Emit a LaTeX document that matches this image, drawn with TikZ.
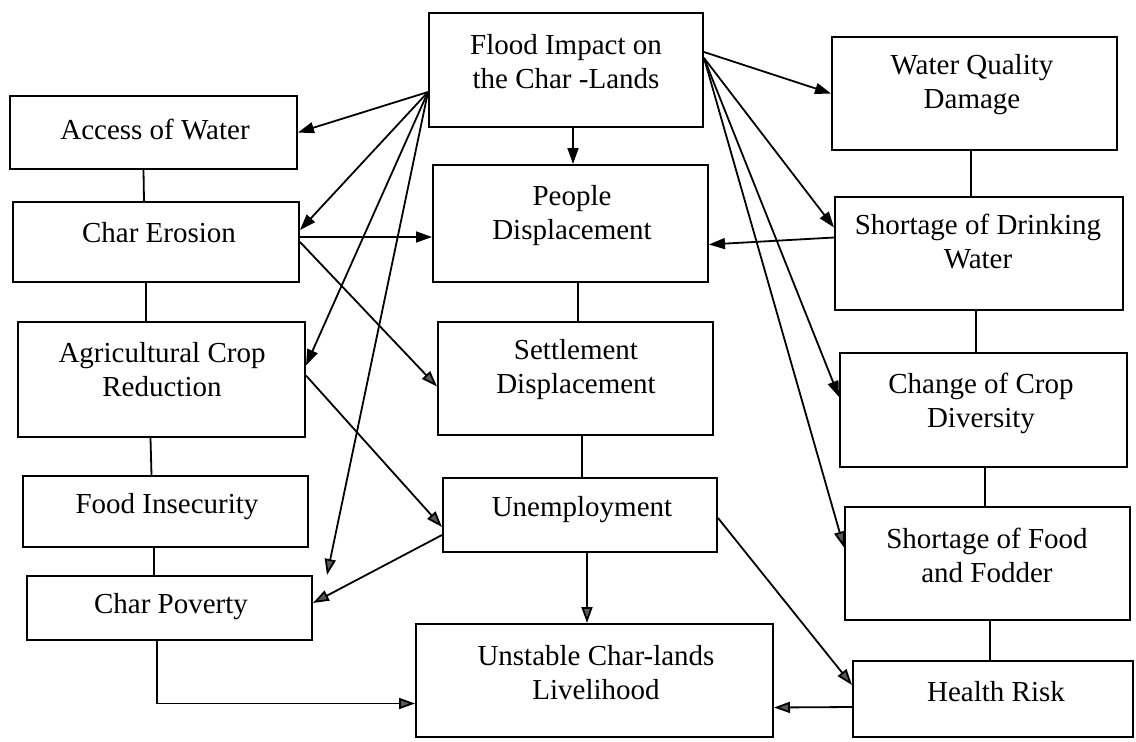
\documentclass[tikz,border=0pt]{standalone}
\usepackage{fontspec}
\setmainfont{Liberation Serif}
\usetikzlibrary{arrows.meta,calc}
\definecolor{headgray}{gray}{0.35}
\begin{document}
\begin{tikzpicture}[x=1pt,y=-1pt,
  box/.style={draw, line width=2pt, inner sep=0pt},
  txt/.style={align=center, font=\fontsize{29}{34}\selectfont, inner sep=0pt},
  ln/.style={line width=1.8pt},
  arr/.style={line width=1.8pt, -{Triangle[length=16pt,width=11pt]}},
  arro/.style={line width=1.8pt, -{Triangle[length=16pt,width=11pt,fill=headgray]}}]
\fill[white] (0,0) rectangle (1136,742);
\useasboundingbox (0,0) rectangle (1136,742);

% boxes
\node[box, minimum width=287pt, minimum height=73pt]  (acc)  at (153.5,132.5) {};
\node[box, minimum width=286pt, minimum height=80pt]  (ero)  at (156,242) {};
\node[box, minimum width=287pt, minimum height=115pt] (agr)  at (161.5,379.5) {};
\node[box, minimum width=285pt, minimum height=71pt]  (food) at (165.5,511.5) {};
\node[box, minimum width=285pt, minimum height=64pt]  (pov)  at (169.5,608) {};
\node[box, minimum width=274pt, minimum height=114pt] (fl)   at (566,70) {};
\node[box, minimum width=275pt, minimum height=117pt] (ppl)  at (570.5,223.5) {};
\node[box, minimum width=275pt, minimum height=113pt] (set)  at (575.5,378.5) {};
\node[box, minimum width=274pt, minimum height=74pt]  (une)  at (580,515) {};
\node[box, minimum width=357pt, minimum height=113pt] (uns)  at (594.5,680.5) {};
\node[box, minimum width=285pt, minimum height=113pt] (wq)   at (974.5,93.5) {};
\node[box, minimum width=288pt, minimum height=113pt] (sdw)  at (979,253.5) {};
\node[box, minimum width=287pt, minimum height=114pt] (coc)  at (983.5,410) {};
\node[box, minimum width=285pt, minimum height=113pt] (sff)  at (987.5,563.5) {};
\node[box, minimum width=280pt, minimum height=76pt]  (hr)   at (993,699) {};

% texts
\node[txt] (flt)   at (566,61.5) {Flood Impact on\\the Char -Lands};
\node[txt] (acct)  at (155,130) {Access of Water};
\node[txt] (erot)  at (159,233) {Char Erosion};
\node[txt] (agrt)  at (162,370) {Agricultural Crop\\Reduction};
\node[txt] (foodt) at (167,507) {Food Insecurity};
\node[txt] (povt)  at (171,607) {Char Poverty};
\node[txt] (pplt)  at (572,216) {People\\Displacement};
\node[txt] (sett)  at (576,370) {Settlement\\Displacement};
\node[txt] (unet)  at (582,510) {Unemployment};
\node[txt] (unst)  at (596,673) {Unstable Char-lands\\Livelihood};
\node[txt] (wqt)   at (972,85) {Water Quality\\Damage};
\node[txt] (sdwt)  at (978,242) {Shortage of Drinking\\Water};
\node[txt] (coct)  at (981,403) {Change of Crop\\Diversity};
\node[txt] (sfft)  at (987,555) {Shortage of Food\\and Fodder};
\node[txt] (hrt)   at (996,692) {Health Risk};

% plain vertical links
\draw[ln] ($(acc.south)+(-10,0)$) -- ($(ero.north)+(-12,0)$);
\draw[ln] ($(ero.south)+(-10,0)$) -- ($(agr.north)+(-15.5,0)$);
\draw[ln] ($(agr.south)+(-11,0)$) -- ($(food.north)+(-14,0)$);
\draw[ln] ($(food.south)+(-11.5,0)$) -- ($(pov.north)+(-15.5,0)$);
\draw[ln] ($(ppl.south)+(7.5,0)$) -- ($(set.north)+(2.5,0)$);
\draw[ln] ($(set.south)+(6.5,0)$) -- ($(une.north)+(2,0)$);
\draw[ln] ($(wq.south)+(-3.5,0)$) -- ($(sdw.north)+(-8,0)$);
\draw[ln] ($(sdw.south)+(-3,0)$) -- ($(coc.north)+(-7.5,0)$);
\draw[ln] ($(coc.south)+(1.5,0)$) -- ($(sff.north)+(-2.5,0)$);
\draw[ln] ($(sff.south)+(2.5,0)$) -- ($(hr.north)+(-3,0)$);

% arrows from the flood box, left fan
\coordinate (povtip) at ($(pov.north east)+(14,0)$);
\draw[arr]  ($(fl.west)+(0,22)$) -- (acc.east);
\draw[arr]  ($(fl.west)+(0,22)$) -- ($(ero.east)+(0,-12)$);
\draw[arr]  ($(fl.west)+(0,22)$) -- ($(agr.east)+(0,-14)$);
\draw[arro] ($(fl.west)+(0,22)$) -- (povtip);
% down
\draw[arr]  ($(fl.south)+(7,0)$) -- ($(ppl.north)+(2.5,0)$);
% right fan
\draw[arr]  ($(fl.east)+(0,-18)$) -- (wq.west);
\draw[arr]  ($(fl.east)+(0,-12)$) -- ($(sdw.west)+(0,-26)$);
\draw[arr]  ($(fl.east)+(0,-12)$) -- ($(coc.west)+(0,-13)$);
\draw[arro] ($(fl.east)+(0,-12)$) -- ($(sff.west)+(0,-16)$);

% other links
\draw[arr]  ($(ero.east)+(0,-5)$) -- ($(ppl.west)+(0,13.5)$);
\draw[arr]  ($(sdw.west)+(0,-16)$) -- ($(ppl.east)+(0,21)$);
\draw[arro] (ero.east) -- ($(set.west)+(0,8)$);
\draw[arro] ($(agr.east)+(0,-4)$) -- ($(une.west)+(0,12)$);
\draw[arro] ($(une.west)+(0,20)$) -- ($(pov.east)+(0,-5)$);
\draw[arro] ($(une.east)+(0,3)$) -- ($(hr.west)+(0,-14)$);
\draw[arro] ($(hr.west)+(0,8)$) -- ($(uns.east)+(0,27)$);
\draw[arro] ($(une.south)+(7,0)$) -- ($(uns.north)+(-7.5,0)$);
\draw[arro] ($(pov.south)+(-12.5,0)$) |- ($(uns.west)+(0,23)$);
\end{tikzpicture}
\end{document}
